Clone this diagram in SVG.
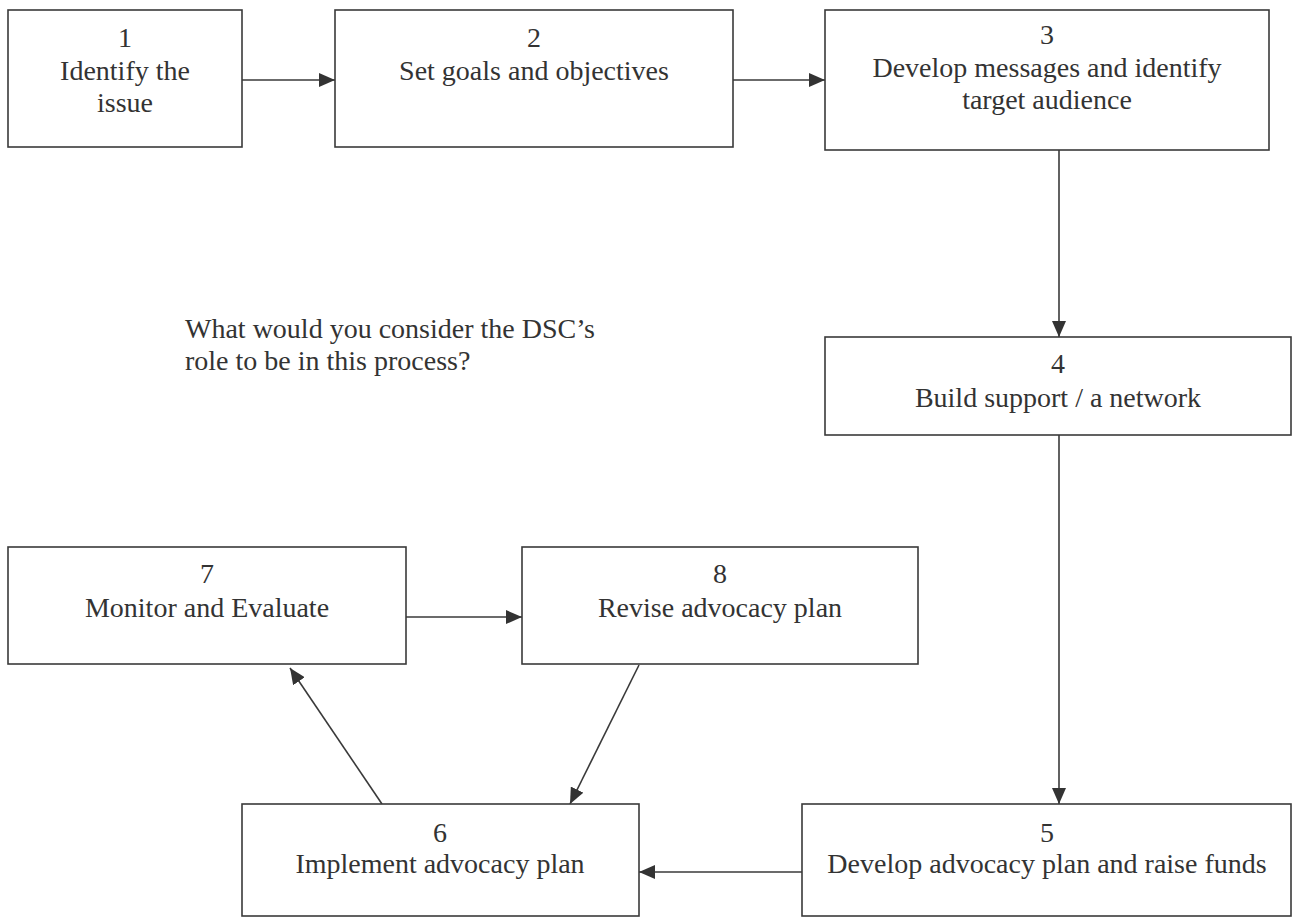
<svg xmlns="http://www.w3.org/2000/svg" width="1292" height="918" viewBox="0 0 1292 918">
<style>
.box{fill:#fff;stroke:#3a3a3a;stroke-width:1.6}
text{font-family:'Liberation Serif','Times New Roman',Tinos,'DejaVu Serif',serif;font-size:28px;fill:#333}
.t{text-anchor:middle}
.c{fill:none;stroke:#3a3a3a;stroke-width:1.6}
</style>
<defs>
<marker id="ah" viewBox="0 0 16 14" refX="16" refY="7" markerWidth="16" markerHeight="14" markerUnits="userSpaceOnUse" orient="auto">
<path d="M0,0 L16,7 L0,14 Z" fill="#333"/>
</marker>
</defs>
<rect width="1292" height="918" fill="#fff"/>
<g id="connectors">
<line class="c" x1="242" y1="80" x2="335" y2="80" marker-end="url(#ah)"/>
<line class="c" x1="733" y1="80" x2="825" y2="80" marker-end="url(#ah)"/>
<line class="c" x1="1059" y1="150" x2="1059" y2="337" marker-end="url(#ah)"/>
<line class="c" x1="1059" y1="435" x2="1059" y2="804" marker-end="url(#ah)"/>
<line class="c" x1="802" y1="872" x2="639" y2="872" marker-end="url(#ah)"/>
<line class="c" x1="382" y1="804" x2="290" y2="668" marker-end="url(#ah)"/>
<line class="c" x1="406" y1="617" x2="522" y2="617" marker-end="url(#ah)"/>
<line class="c" x1="639" y1="665" x2="570" y2="804" marker-end="url(#ah)"/>
</g>
<g id="n1" font-family="Liberation Serif, serif"><rect class="box" x="8" y="10" width="234" height="137"/><text class="t" x="125" y="47">1</text><text class="t" x="125" y="80">Identify the</text><text class="t" x="125" y="112">issue</text></g>
<g id="n2" font-family="Liberation Serif, serif"><rect class="box" x="335" y="10" width="398" height="137"/><text class="t" x="534" y="47">2</text><text class="t" x="534" y="80">Set goals and objectives</text></g>
<g id="n3" font-family="Liberation Serif, serif"><rect class="box" x="825" y="10" width="444" height="140"/><text class="t" x="1047" y="44">3</text><text class="t" x="1047" y="77">Develop messages and identify</text><text class="t" x="1047" y="109">target audience</text></g>
<g id="n4" font-family="Liberation Serif, serif"><rect class="box" x="825" y="337" width="466" height="98"/><text class="t" x="1058" y="373">4</text><text class="t" x="1058" y="407">Build support / a network</text></g>
<g id="n5" font-family="Liberation Serif, serif"><rect class="box" x="802" y="804" width="489" height="112"/><text class="t" x="1047" y="842">5</text><text class="t" x="1047" y="873">Develop advocacy plan and raise funds</text></g>
<g id="n6" font-family="Liberation Serif, serif"><rect class="box" x="242" y="804" width="397" height="112"/><text class="t" x="440" y="842">6</text><text class="t" x="440" y="873">Implement advocacy plan</text></g>
<g id="n7" font-family="Liberation Serif, serif"><rect class="box" x="8" y="547" width="398" height="117"/><text class="t" x="207" y="583">7</text><text class="t" x="207" y="617">Monitor and Evaluate</text></g>
<g id="n8" font-family="Liberation Serif, serif"><rect class="box" x="522" y="547" width="396" height="117"/><text class="t" x="720" y="583">8</text><text class="t" x="720" y="617">Revise advocacy plan</text></g>
<g id="question" font-family="Liberation Serif, serif"><text x="185" y="338">What would you consider the DSC’s</text><text x="185" y="370">role to be in this process?</text></g>
</svg>
